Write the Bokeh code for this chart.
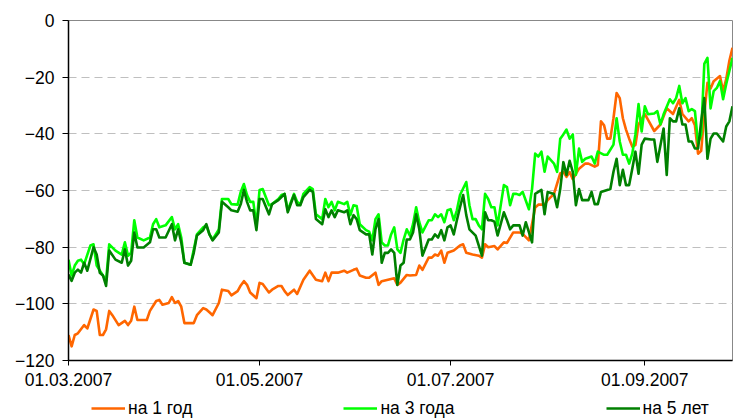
import pandas as pd
from bokeh.plotting import figure
from bokeh.layouts import column
from bokeh.models import (Range1d, FixedTicker, SingleIntervalTicker, DatetimeTickFormatter,
                          Legend, LegendItem)
from bokeh.embed import file_html
from bokeh.resources import INLINE

# ---------------- data ----------------
start_date = "2007-03-01"
end_date = "2007-09-29"
tick_dates = ["2007-03-01", "2007-05-01", "2007-07-01", "2007-09-01"]
series_names = ["на 1 год", "на 3 года", "на 5 лет"]

# days since start_date
days_1y = [0, 1, 2, 3, 5, 6, 8, 9, 10, 11,
           12, 13, 14, 16, 18, 19, 20, 21, 22, 25,
           26, 28, 29, 30, 32, 33, 34, 35, 36, 37,
           40, 41, 43, 44, 45, 46, 48, 49, 51, 52,
           54, 55, 56, 57, 58, 60, 61, 62, 64, 65,
           67, 68, 69, 70, 72, 73, 75, 77, 79, 81,
           82, 83, 84, 86, 88, 89, 91, 92, 93, 95,
           96, 98, 99, 100, 102, 104, 105, 106, 108, 109,
           111, 112, 113, 115, 116, 117, 118, 119, 120, 121,
           123, 125, 126, 127, 129, 131, 132, 133, 134, 136,
           137, 139, 140, 142, 144, 145, 147, 149, 150, 152,
           153, 155, 157, 158, 159, 160, 161, 163, 165, 166,
           168, 169, 170, 171, 172, 173, 174, 175, 176, 177,
           178, 179, 180, 181, 182, 184, 185, 187, 189, 191,
           193, 195, 196, 198, 199, 200, 201, 202, 203, 204,
           205, 206, 208, 209, 210, 211, 212]
vals_1y = [-111, -115, -111, -110.4, -107.5, -108.7, -102, -102.5, -111, -111,
           -109, -102.5, -104, -107.5, -106, -107.5, -106, -101, -105.7, -105.7,
           -102.5, -99, -98.6, -100.3, -99.7, -97.6, -99.7, -99, -101, -106.8,
           -106.8, -104, -101.5, -102, -103, -104, -99.7, -95, -95.5, -97,
           -95.5, -93.5, -92, -93.3, -96, -98, -92.6, -93, -96, -95,
           -93.7, -93.7, -95.5, -96.9, -95, -96.5, -91.5, -88.3, -91.5, -92,
           -89, -92, -89, -89, -88.3, -89, -88, -87.6, -90, -90.8,
           -90.8, -89, -93.3, -92, -91.5, -91, -93.3, -92.5, -89.8, -90,
           -89.8, -86.5, -88, -83.7, -83.7, -82.6, -83, -81.2, -85.5, -82,
           -81.2, -79.4, -79, -82, -82.6, -83, -83.7, -79, -80, -79.6,
           -80.8, -78.3, -78.5, -74.8, -74.8, -75.3, -77.6, -66, -65, -65,
           -63.4, -61.2, -54, -53.4, -55.2, -53.5, -56, -52.3, -50.5, -50.5,
           -51.6, -51, -35.6, -37, -41.7, -41.7, -34.5, -25.6, -27.4, -34.5,
           -38.5, -41.7, -44.5, -44, -36.7, -33, -35, -39, -36.7, -31,
           -33, -28, -33, -35.6, -34.5, -37, -47, -46, -33, -22,
           -24, -21.4, -19.6, -25, -20.6, -14.2, -9.6]

days_3y = [0, 1, 2, 3, 4, 5, 7, 8, 9, 11,
           12, 13, 15, 17, 18, 19, 20, 21, 22, 24,
           26, 27, 28, 29, 31, 33, 34, 35, 36, 37,
           39, 40, 41, 43, 44, 45, 46, 48, 49, 51,
           52, 54, 55, 56, 57, 58, 59, 60, 61, 62,
           64, 65, 67, 68, 69, 70, 72, 73, 74, 75,
           77, 78, 79, 81, 82, 83, 84, 85, 86, 88,
           89, 90, 91, 92, 93, 95, 96, 97, 98, 99,
           100, 101, 102, 103, 104, 105, 106, 107, 108, 109,
           110, 111, 112, 113, 115, 116, 117, 118, 119, 120,
           121, 122, 123, 124, 125, 127, 128, 129, 130, 131,
           132, 133, 134, 135, 136, 137, 139, 140, 141, 142,
           143, 144, 145, 147, 148, 149, 150, 151, 152, 153,
           155, 156, 157, 158, 159, 160, 161, 162, 163, 164,
           165, 167, 168, 169, 171, 172, 174, 175, 176, 177,
           178, 179, 180, 181, 182, 183, 184, 185, 187, 188,
           189, 190, 192, 193, 194, 195, 196, 197, 198, 199,
           200, 201, 202, 203, 204, 205, 206, 207, 208, 209,
           210, 211, 212]
vals_3y = [-84.4, -90, -86.5, -84.8, -84.4, -86, -79.4, -79, -86.5, -90,
           -91.9, -79, -81.2, -82.6, -78.3, -83, -82, -70.5, -76.6, -77.6,
           -76.6, -71.9, -70.1, -73, -72.3, -69.4, -73.7, -71.9, -76.6, -85.5,
           -86.2, -80.8, -75.5, -73, -72.3, -75.5, -77.3, -73.7, -63, -63,
           -64.8, -65, -60.5, -57.7, -61.6, -64, -64, -72.3, -59.8, -59.5,
           -65.2, -64.8, -63, -61.6, -61.2, -67, -61.2, -64, -65, -61.2,
           -58.8, -59.5, -68.4, -70.1, -63, -65.9, -64, -67, -64, -64.8,
           -64, -68.7, -65.2, -65.5, -71.9, -74, -74.5, -77.6, -70.1, -68.4,
           -78.3, -79.4, -79.4, -75.5, -73, -80.8, -82, -77.3, -73.7, -75.9,
           -71.9, -65.9, -71.2, -74.8, -70.5, -70.5, -68.4, -69.4, -68.4, -71.2,
           -67, -66.6, -70.5, -67, -61.6, -57, -65.2, -70.1, -70.1, -72.3,
           -73.7, -61.2, -63, -65.9, -65.9, -72.3, -58.1, -58.8, -65.2, -61.2,
           -61.2, -61.6, -60.5, -66.6, -59.5, -47, -48, -46.3, -53.4, -48,
           -50.5, -53.4, -41.7, -40.2, -38.5, -41.7, -40.2, -54.5, -45.2, -49.9,
           -48.8, -48, -50.5, -46.3, -47.4, -47.4, -43.8, -34.5, -42.7, -47.4,
           -47.4, -50.5, -47, -40.2, -29.5, -39.2, -30.3, -33.1, -32.8, -32,
           -36.7, -33.1, -27.8, -29.2, -27.4, -23.1, -29.2, -27.4, -32, -31.3,
           -32, -43.4, -40.2, -15.3, -13.2, -31, -24.9, -23.8, -21.4, -27.8,
           -22.4, -17.8, -13.2]

days_5y = [0, 1, 2, 3, 4, 5, 6, 8, 9, 10,
           11, 12, 13, 15, 17, 18, 19, 20, 21, 22,
           24, 26, 27, 28, 29, 31, 33, 34, 35, 36,
           37, 39, 40, 41, 43, 44, 45, 46, 48, 49,
           51, 52, 54, 55, 56, 57, 58, 59, 60, 61,
           62, 64, 65, 67, 68, 69, 70, 72, 73, 74,
           75, 77, 78, 79, 81, 82, 83, 84, 85, 86,
           88, 89, 90, 91, 92, 93, 95, 96, 97, 98,
           99, 100, 101, 102, 103, 104, 105, 106, 107, 108,
           109, 110, 111, 112, 113, 115, 116, 117, 118, 119,
           120, 121, 122, 123, 124, 125, 126, 127, 128, 130,
           132, 133, 134, 135, 136, 137, 139, 140, 141, 142,
           143, 144, 145, 146, 148, 149, 150, 151, 152, 153,
           155, 156, 157, 158, 159, 160, 161, 162, 163, 164,
           166, 167, 168, 169, 170, 172, 173, 174, 175, 176,
           177, 178, 179, 180, 181, 182, 183, 184, 186, 187,
           188, 190, 191, 192, 193, 194, 195, 196, 197, 198,
           199, 200, 201, 202, 203, 204, 205, 206, 207, 209,
           210, 211, 212]
vals_5y = [-89.7, -91.9, -89, -87.9, -89, -85.5, -88.3, -80, -82.6, -89,
           -90, -93.7, -81.2, -84.4, -85.5, -80.8, -86.5, -84.8, -74.8, -80.1,
           -80.1, -78.3, -73.7, -73.7, -76.6, -76.6, -71.9, -77.6, -73.7, -78.3,
           -85.5, -86.2, -82, -75.9, -74, -71.9, -75.5, -77.6, -74.8, -64,
           -65.9, -67, -67.5, -64.8, -59.8, -64, -67, -67, -74, -63,
           -63, -68.4, -64.8, -63.4, -62.3, -61.2, -67.7, -61.6, -65.2, -65.2,
           -62.3, -59.8, -60.5, -70.1, -71.9, -66.6, -69.4, -67, -69.4, -67,
           -67.7, -67, -71.9, -68.7, -70.1, -74, -75.5, -75.5, -82.6, -73.7,
           -70.1, -85.5, -82, -82, -80.8, -82, -93.3, -86.5, -85.5, -77.3,
           -77.3, -74.8, -68.4, -73.7, -83, -77.3, -77.3, -75.5, -76.6, -74,
           -77.6, -73, -72.3, -75.5, -70.5, -65.9, -61.6, -68.7, -73.7, -75.9,
           -83, -67.7, -70.5, -70.5, -71, -75.9, -67.7, -70.5, -73.7, -72.3,
           -72.3, -72.3, -75.9, -71.2, -78.3, -61.2, -60.5, -59.8, -68.4, -60.5,
           -61.2, -65.9, -59.5, -50, -54.5, -49.5, -53.4, -65.2, -59.5, -63.4,
           -63.4, -60.5, -64.8, -64.8, -60.5, -59.8, -59.5, -53.4, -48.8, -58.1,
           -52.7, -58.1, -58.1, -52.3, -46.3, -54.1, -43.8, -41.7, -42, -42,
           -49.9, -38.1, -54.5, -34.5, -35.6, -35.6, -31, -36.7, -36.7, -42.7,
           -42.7, -45.2, -45.2, -35.6, -27.4, -48.8, -41.7, -39.9, -39.9, -42.7,
           -37.4, -35.6, -30.3]

colors = ["#FF6600", "#00FF00", "#008000"]

# ---------------- main chart ----------------
t0 = pd.Timestamp(start_date)


def to_dates(days):
    return [t0 + pd.Timedelta(days=d) for d in days]


FONT = "Liberation Sans"
FSIZE = "17.5px"
LINE_W = 2.6

all_days = [days_1y, days_3y, days_5y]
all_vals = [vals_1y, vals_3y, vals_5y]

p = figure(width=735, height=397, x_axis_type="datetime",
           output_backend="svg", toolbar_location=None,
           x_range=Range1d(pd.Timestamp(start_date), pd.Timestamp(end_date)),
           y_range=Range1d(-120, 0),
           min_border_left=68, min_border_right=3, min_border_top=20, min_border_bottom=37)

p.background_fill_color = "white"
p.border_fill_color = "white"
p.outline_line_color = "#888888"
p.outline_line_width = 1

for days, vals, col in zip(all_days, all_vals, colors):
    p.line(to_dates(days), vals, line_color=col, line_width=LINE_W, line_join="round")

xticks = [pd.Timestamp(d).value / 1e6 for d in tick_dates]
p.xaxis.ticker = FixedTicker(ticks=xticks)
fmt = "%d.%m.%Y"
p.xaxis.formatter = DatetimeTickFormatter(milliseconds=fmt, seconds=fmt, minsec=fmt, minutes=fmt,
                                          hourmin=fmt, hours=fmt, days=fmt, months=fmt, years=fmt)
p.yaxis.ticker = SingleIntervalTicker(interval=20)

for ax in (p.xaxis[0], p.yaxis[0]):
    ax.axis_line_color = "black"
    ax.axis_line_width = 1.5
    ax.major_tick_line_color = "black"
    ax.major_tick_in = 0
    ax.minor_tick_line_color = None
    ax.major_label_text_font = FONT
    ax.major_label_text_font_size = FSIZE
    ax.major_label_text_color = "black"

p.xaxis.major_tick_out = 5
p.xaxis.major_label_standoff = 7
p.yaxis.major_tick_out = 6
p.yaxis.major_label_standoff = 8

p.xgrid.grid_line_color = None
p.ygrid.grid_line_color = "#BFBFBF"
p.ygrid.grid_line_dash = "8 5"
p.ygrid.grid_line_width = 1

# ---------------- legend strip (frame aligned with the chart frame) ----------------
leg = figure(width=735, height=22, output_backend="svg", toolbar_location=None,
             x_axis_type="datetime", x_axis_location=None, y_axis_location=None,
             x_range=Range1d(pd.Timestamp(start_date), pd.Timestamp(end_date)),
             y_range=Range1d(0, 1),
             min_border_left=68, min_border_right=3, min_border_top=0, min_border_bottom=0)
leg.outline_line_color = None
leg.background_fill_color = "white"
leg.border_fill_color = "white"
leg.grid.visible = False

# key renderers carry the same series (they fall outside this strip's 0..1 value range)
key_renderers = [leg.line(to_dates(days), vals, line_color=col, line_width=LINE_W)
                 for days, vals, col in zip(all_days, all_vals, colors)]
legend = Legend(items=[LegendItem(label=n, renderers=[r]) for n, r in zip(series_names, key_renderers)],
                location=(23, 0), orientation="horizontal",
                padding=0, margin=0, spacing=151,
                glyph_width=34, glyph_height=22, label_height=22,
                label_standoff=3,
                label_text_font=FONT, label_text_font_size=FSIZE,
                label_text_color="black",
                border_line_alpha=0, background_fill_alpha=0)
leg.add_layout(legend)

layout = column(p, leg, spacing=0)

open("out.html", "w").write(file_html(layout, INLINE))
